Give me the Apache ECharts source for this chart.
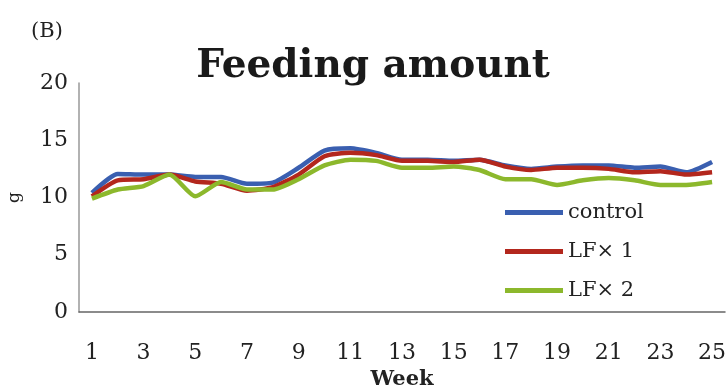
<!DOCTYPE html>
<html><head><meta charset="utf-8">
<script src="https://cdn.jsdelivr.net/npm/echarts@6/dist/echarts.min.js"></script>
<style>html,body{margin:0;padding:0;background:#fff}#c{width:728px;height:388px}</style>
</head><body><div id="c"></div>
<script>
const weeks = [1,2,3,4,5,6,7,8,9,10,11,12,13,14,15,16,17,18,19,20,21,22,23,24,25];
const control = [10.4,12.05,12.0,12.0,11.8,11.8,11.2,11.3,12.6,14.1,14.3,13.9,13.3,13.3,13.2,13.3,12.8,12.5,12.7,12.8,12.8,12.6,12.7,12.2,13.1];
const lf1 = [10.1,11.5,11.6,12.0,11.4,11.2,10.6,10.9,12.0,13.6,13.9,13.7,13.2,13.2,13.1,13.3,12.7,12.4,12.6,12.6,12.5,12.2,12.3,12.0,12.2];
const lf2 = [9.9,10.7,11.0,12.0,10.1,11.35,10.7,10.7,11.6,12.8,13.3,13.2,12.6,12.6,12.7,12.4,11.6,11.6,11.1,11.5,11.7,11.5,11.1,11.1,11.35];
const seriesNames = ['control','LF× 1','LF× 2'];
const colors = ['#3a5fb0','#b3271d','#8cb82c'];
const serif = '"DejaVu Serif","Liberation Serif",serif';
const chart = echarts.init(document.getElementById('c'));
const mk = (name, data, i) => ({
  name, type:'line', data, smooth:0.2, symbol:'none',
  lineStyle:{width:4.5, color:colors[i]}, itemStyle:{color:colors[i]}
});
chart.setOption({
  animation:false,
  title:[
    {text:'Feeding amount', left:368, top:42, textAlign:'center',
     textStyle:{fontFamily:serif, fontWeight:'bold', fontSize:39, color:'#1a1a1a'}},
    {text:'(B)', left:26, top:16, textStyle:{fontFamily:serif, fontWeight:'normal', fontSize:21, color:'#222'}}
  ],
  legend:{
    orient:'vertical', left:500, top:197, itemWidth:58, itemHeight:5, itemGap:18,
    icon:'rect',
    textStyle:{fontFamily:serif, fontSize:21, color:'#222'},
    data:seriesNames
  },
  grid:{left:79, right:3, top:83, bottom:76, containLabel:false, outerBoundsMode:'none'},
  xAxis:{
    type:'category', data:weeks, boundaryGap:true,
    name:'Week', nameLocation:'middle', nameGap:52,
    nameTextStyle:{fontFamily:serif, fontWeight:'bold', fontSize:21, color:'#222'},
    axisLine:{lineStyle:{color:'#666', width:1.5}},
    axisTick:{show:false},
    axisLabel:{interval:1, fontFamily:serif, fontSize:22, color:'#222', margin:30}
  },
  yAxis:{
    type:'value', min:0, max:20, interval:5,
    name:'g', nameLocation:'middle', nameGap:56, nameRotate:90,
    nameTextStyle:{fontFamily:serif, fontSize:17, color:'#222'},
    axisLine:{show:true, lineStyle:{color:'#999', width:1.5}},
    axisTick:{show:false},
    splitLine:{show:false},
    axisLabel:{fontFamily:serif, fontSize:22, color:'#222', margin:11}
  },
  series:[mk(seriesNames[0], control, 0), mk(seriesNames[1], lf1, 1), mk(seriesNames[2], lf2, 2)]
});
</script></body></html>
